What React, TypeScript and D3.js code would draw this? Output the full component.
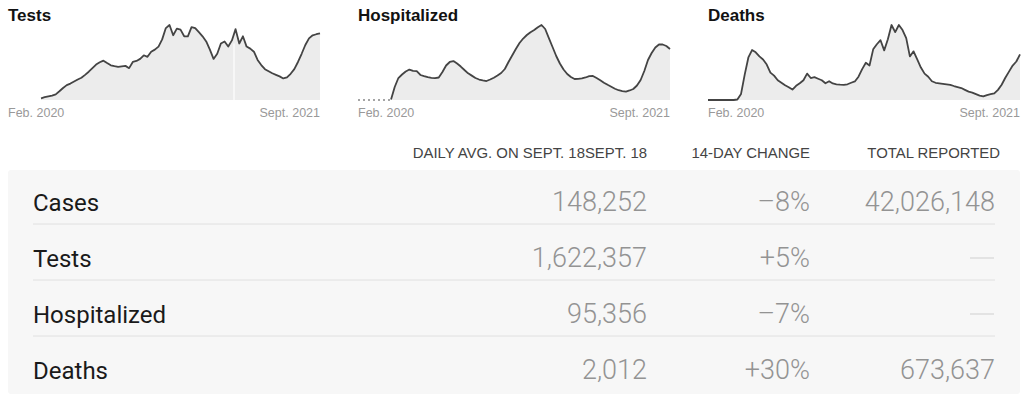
import React from "react";
import * as d3 from "d3";

const W = 1029;
const H = 398;

// sparkline x domain
const startDate = new Date(2020, 1, 1);
const endDate = new Date(2021, 8, 18);
const axisLabels = ["Feb. 2020", "Sept. 2021"];

// weekly 7-day averages, last point = Sept. 18, 2021
// tests, thousands
const tests = [
  42, 68, 88, 108, 138, 212, 292, 362, 400, 450, 500, 542, 612, 688, 775, 862, 918, 958, 900, 845,
  825, 808, 820, 830, 775, 925, 950, 1000, 1088, 1050, 1175, 1225, 1300, 1475, 1750, 1825, 1575, 1738,
  1712, 1550, 1550, 1775, 1750, 1650, 1550, 1425, 1225, 1000, 1125, 1375, 1425, 1300, 1450, 1725,
  1375, 1550, 1300, 1250, 1175, 975, 850, 750, 700, 650, 612, 575, 525, 550, 638, 750, 925, 1125,
  1338, 1500, 1575, 1600, 1622,
];
// hospitalized, thousands
const hospitalized = [
  1.0, 24.3, 41.1, 47.7, 53.3, 57.0, 54.6, 54.2, 46.8, 44.5, 42.6, 41.5, 40.8, 42.1, 52.4, 64.5, 71.1,
  72.9, 68.3, 62.6, 56.1, 49.9, 45.6, 41.1, 38.3, 36.8, 35.5, 38.3, 41.7, 45.8, 50.5, 58.0, 71.1, 83.2,
  95.4, 106.6, 115.0, 121.6, 126.8, 130.9, 136.0, 140.3, 132.8, 115.9, 99.1, 82.3, 68.3, 57.0, 48.6,
  43.0, 39.3, 39.6, 40.4, 42.1, 44.5, 44.9, 41.1, 37.0, 32.4, 28.4, 24.7, 21.1, 18.3, 16.8, 15.7, 17.8,
  20.6, 27.1, 37.4, 54.2, 74.8, 87.9, 98.2, 103.8, 103.8, 101.0, 95.4,
];
// deaths
const deaths = [
  0, 0, 0, 0, 0, 0, 0, 0, 22, 268, 1118, 1877, 2204, 2101, 1922, 1788, 1565, 1207, 1073, 872, 760, 648,
  559, 460, 626, 738, 872, 1162, 970, 1006, 939, 872, 738, 827, 729, 693, 679, 671, 693, 760, 818, 1028,
  1363, 1640, 1520, 2235, 2459, 2637, 2190, 2682, 3308, 2995, 3308, 3084, 2727, 1922, 2146, 1788, 1430,
  1162, 1028, 827, 760, 738, 715, 693, 671, 617, 572, 527, 447, 371, 326, 259, 192, 156, 215, 255, 291,
  447, 671, 983, 1252, 1520, 1699, 2012,
];
const testsGapDate = new Date(2021, 3, 7);

// table
const columns = ["DAILY AVG. ON SEPT. 18SEPT. 18", "14-DAY CHANGE", "TOTAL REPORTED"];
const rowLabels = ["Cases", "Tests", "Hospitalized", "Deaths"];
const dailyAvg = [148252, 1622357, 95356, 2012];
const change14 = [-8, 5, -7, 30];
const totals = [42026148, null, null, 673637];

const sans = "'Liberation Sans', Arial, sans-serif";
const roboto = "Roboto, 'Liberation Sans', sans-serif";

function weeklyDates(n: number) {
  return d3.range(n).map((i) => d3.timeDay.offset(endDate, -7 * (n - 1 - i)));
}

function Spark({ title, values, left, dots, gap }: { title: string; values: number[]; left: number; dots?: boolean; gap?: Date }) {
  const x = d3.scaleTime().domain([startDate, endDate]).range([left, left + 312]);
  const y = d3.scaleLinear().domain([0, d3.max(values)!]).range([100, 25]);
  const dates = weeklyDates(values.length);
  const pts = values.map((v, i) => [dates[i], v] as [Date, number]);
  const area = d3.area<[Date, number]>().x((d) => x(d[0])).y0(y(0)).y1((d) => y(d[1]));
  const line = d3.line<[Date, number]>().x((d) => x(d[0])).y((d) => y(d[1]));
  let gapLine = null;
  if (gap) {
    const i = d3.bisector((d: Date) => d).left(dates, gap);
    const top = y(Math.min(values[i - 1], values[i])) + 3;
    gapLine = <line x1={x(gap)} x2={x(gap)} y1={y(0)} y2={top} stroke="#fff" strokeWidth={1.2} />;
  }
  return (
    <g>
      <text x={left} y={21} fontFamily={sans} fontWeight={700} fontSize={17} fill="#121212">{title}</text>
      <path d={area(pts)!} fill="#ececec" />
      {gapLine}
      {dots && (
        <line x1={x(startDate)} x2={x(dates[0])} y1={y(0)} y2={y(0)} stroke="#888" strokeWidth={1.5} strokeDasharray="2,3" />
      )}
      <path d={line(pts)!} fill="none" stroke="#444" strokeWidth={1.8} strokeLinejoin="round" />
      <text x={left} y={117} fontFamily={sans} fontSize={12.5} fill="#999">{axisLabels[0]}</text>
      <text x={left + 312} y={117} textAnchor="end" fontFamily={sans} fontSize={12.5} fill="#999">{axisLabels[1]}</text>
    </g>
  );
}

export default function App() {
  const rowY = d3.scaleBand().domain(rowLabels).range([170, 394]);
  const fmt = d3.format(",");
  const pct = (v: number) => (v < 0 ? "–" : "+") + Math.abs(v) + "%";
  const colX = [647, 810, 1000];
  const num = { fontFamily: roboto, fontWeight: 300, fontSize: 27, fill: "#939393" };
  return (
    <svg width={W} height={H} style={{ position: "absolute", left: 0, top: 0, background: "#fff" }}>
      <Spark title="Tests" values={tests} left={8} gap={testsGapDate} />
      <Spark title="Hospitalized" values={hospitalized} left={358} dots />
      <Spark title="Deaths" values={deaths} left={708} />

      {columns.map((c, i) => (
        <text key={c} x={colX[i]} y={158} textAnchor="end" fontFamily={sans} fontSize={14.9} fill="#444">{c}</text>
      ))}

      <rect x={8} y={170} width={1012} height={224} rx={3} fill="#f7f7f7" />
      {rowLabels.map((r, i) => {
        const y0 = rowY(r)!;
        return (
          <g key={r}>
            <text x={33} y={y0 + 41} fontFamily={roboto} fontSize={24} fill="#1a1a1a">{r}</text>
            <text x={647} y={y0 + 41} textAnchor="end" {...num}>{fmt(dailyAvg[i])}</text>
            <text x={810} y={y0 + 41} textAnchor="end" {...num}>{pct(change14[i])}</text>
            {totals[i] != null ? (
              <text x={995} y={y0 + 41} textAnchor="end" {...num}>{fmt(totals[i] as number)}</text>
            ) : (
              <line x1={970} x2={994} y1={y0 + 32} y2={y0 + 32} stroke="#d6d6d6" strokeWidth={1.2} />
            )}
            {i < rowLabels.length - 1 && (
              <line x1={33} x2={995} y1={y0 + rowY.bandwidth() - 2} y2={y0 + rowY.bandwidth() - 2} stroke="#e0e0e0" strokeWidth={1} />
            )}
          </g>
        );
      })}
    </svg>
  );
}
